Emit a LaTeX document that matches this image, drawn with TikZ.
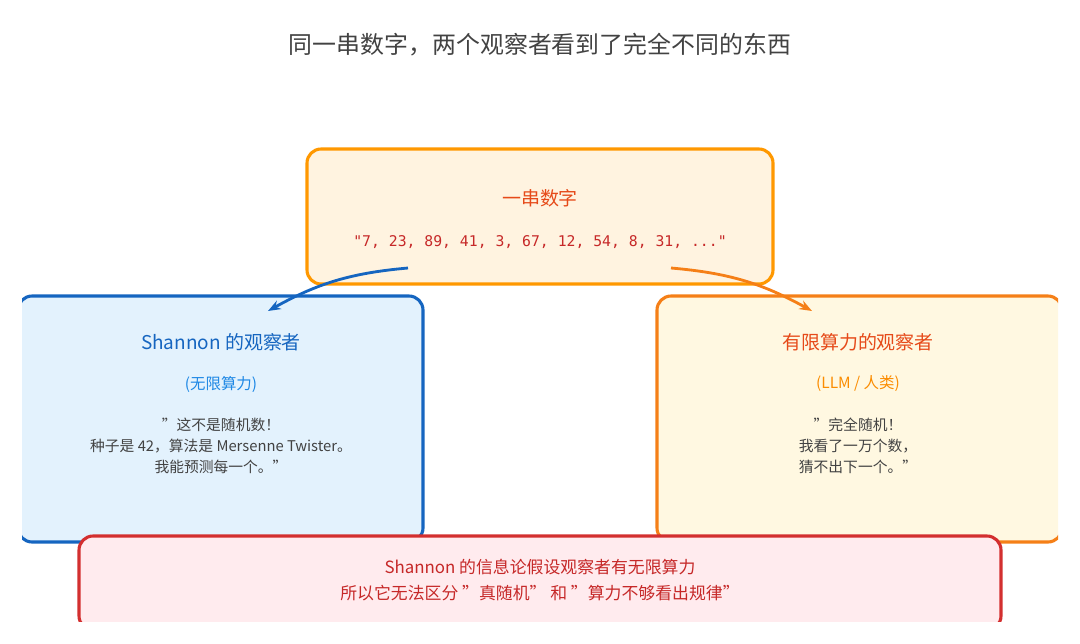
\documentclass[tikz,border=0pt]{standalone}
\usepackage{fontspec}
\setmainfont{Noto Sans CJK SC}
\setmonofont{DejaVu Sans Mono}
\usetikzlibrary{arrows.meta, positioning}
\definecolor{topline}{HTML}{FF9800}
\definecolor{topfill}{HTML}{FFF3E0}
\definecolor{topred}{HTML}{E64A19}
\definecolor{monored}{HTML}{C62828}
\definecolor{leftline}{HTML}{1565C0}
\definecolor{leftfill}{HTML}{E3F2FD}
\definecolor{leftsub}{HTML}{1E88E5}
\definecolor{rightline}{HTML}{F57F17}
\definecolor{rightfill}{HTML}{FFF8E1}
\definecolor{rightsub}{HTML}{FB8C00}
\definecolor{noteline}{HTML}{D32F2F}
\definecolor{notefill}{HTML}{FFEBEE}
\definecolor{quotegray}{HTML}{424242}
\tikzset{
  panel/.style = {rounded corners=10pt, line width=2.2pt},
  head/.style = {font=\fontsize{13.5}{16}\selectfont},
  sub/.style = {font=\fontsize{11}{13}\selectfont},
  quote/.style = {align=center, text=quotegray, font=\fontsize{10.5}{15}\selectfont},
  arrow/.style = {line width=2pt, -{Stealth[length=9pt]}}
}
\begin{document}
\begin{tikzpicture}[x=0.025cm, y=-0.025cm]
  \useasboundingbox (0,0) rectangle (1080,644);
  % Titel
  \node[text=quotegray, font=\fontsize{17}{20}\selectfont] (title) at (540,45) {同一串数字，两个观察者看到了完全不同的东西};

  \begin{scope}
  \clip (22,0) rectangle (1058,621);
  % Kaesten
  \draw[panel, draw=topline, fill=topfill] (307,149) rectangle (773,284);
  \draw[panel, draw=leftline, fill=leftfill] (18,296) rectangle (423,542);
  \draw[panel, draw=rightline, fill=rightfill] (657,296) rectangle (1062,542);
  \draw[panel, draw=noteline, fill=notefill] (79,536) rectangle (1001,630);
  \end{scope}

  % Oben
  \node[head, text=topred] (seqhead) at (540,198) {一串数字};
  \node[text=monored, font=\ttfamily\fontsize{10.5}{12}\selectfont] (seq) at (540,242) {"7, 23, 89, 41, 3, 67, 12, 54, 8, 31, ..."};

  % Links
  \node[head, text=leftline] (shead) at (221,342) {Shannon 的观察者};
  \node[sub, text=leftsub] (ssub) at (221,384) {(无限算力)};
  \node[quote] (squote) at (221,446) {"这不是随机数！\\种子是 42，算法是 Mersenne Twister。\\我能预测每一个。"};

  % Rechts
  \node[head, text=topred] (lhead) at (858,342) {有限算力的观察者};
  \node[sub, text=rightsub] (lsub) at (858,384) {(LLM / 人类)};
  \node[quote] (lquote) at (858,446) {"完全随机！\\我看了一万个数，\\猜不出下一个。"};

  % Unten
  \node[align=center, text=monored, font=\fontsize{12}{19}\selectfont] (note) at (540,580) {Shannon 的信息论假设观察者有无限算力\\所以它无法区分 "真随机" 和 "算力不够看出规律"};

  % Pfeile
  \coordinate (lstart) at (408,268);
  \coordinate (lend) at (268,311);
  \coordinate (rstart) at (671,268);
  \coordinate (rend) at (812,311);
  \draw[arrow, leftline] (lstart) to[bend right=12] (lend);
  \draw[arrow, rightline] (rstart) to[bend left=12] (rend);
\end{tikzpicture}
\end{document}
